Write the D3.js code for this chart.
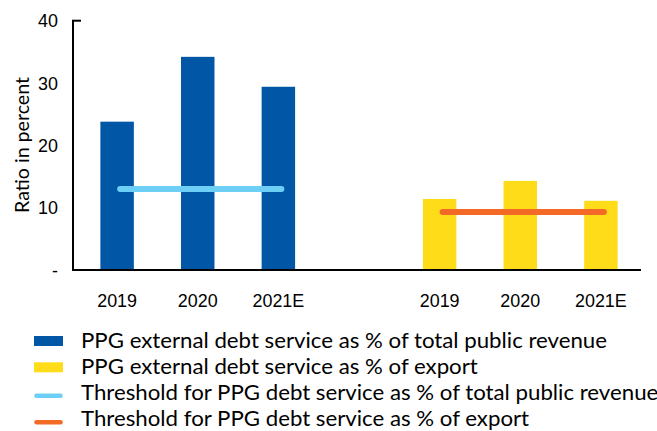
<!DOCTYPE html>
<html>
<head>
<meta charset="utf-8">
<script src="https://cdn.jsdelivr.net/npm/d3@7"></script>
<style>
  html, body { margin: 0; padding: 0; background: #fff; }
  svg { display: block; font-family: Lato, "Open Sans", sans-serif; }
</style>
</head>
<body>
<svg id="chart" width="657" height="431"></svg>
<script>
// ---- data ----
const categories = ["2019", "2020", "2021E"];
const revenueShare = [23.8, 34.2, 29.4];      // PPG external debt service as % of total public revenue
const exportShare = [11.4, 14.3, 11.1];       // PPG external debt service as % of export
const revenueThreshold = [13.0, 13.0, 13.0];
const exportThreshold = [9.3, 9.3, 9.3];
const yTicks = [0, 10, 20, 30, 40];
const yTickLabels = ["-", "10", "20", "30", "40"];
const legendLabels = [
  "PPG external debt service as % of total public revenue",
  "PPG external debt service as % of export",
  "Threshold for PPG debt service as % of total public revenue",
  "Threshold for PPG debt service as % of export"
];
const yTitle = "Ratio in percent";

// ---- styles ----
const C_BLUE = "#0156a6", C_YELLOW = "#fedc19", C_LIGHT = "#6dcff6", C_ORANGE = "#f26a26";

const svg = d3.select("#chart");

// slots: revenue group, gap, export group
const keys = [...categories.map(c => "rev|" + c), "gap", ...categories.map(c => "exp|" + c)];
const x = d3.scaleBand().domain(keys).range([77, 641]).paddingInner(0.585).paddingOuter(0.29);
const y = d3.scaleLinear().domain([0, 40]).range([270, 20.7]);

function measure(str, size) {
  const t = svg.append("text").attr("font-size", size).text(str);
  const w = t.node().getComputedTextLength();
  t.remove();
  return w;
}
const tickFS = 19;
const tickScale = 41.5 / measure("2019", tickFS);
const titleFS = 19;
const legendFS = 21;
const legendScale = 526 / measure(legendLabels[0], legendFS);

// bars
const revData = categories.map((c, i) => ({ key: "rev|" + c, v: revenueShare[i] }));
const expData = categories.map((c, i) => ({ key: "exp|" + c, v: exportShare[i] }));

svg.append("g").selectAll("rect").data(revData).join("rect")
  .attr("x", d => x(d.key)).attr("width", x.bandwidth())
  .attr("y", d => y(d.v)).attr("height", d => y(0) - y(d.v))
  .attr("fill", C_BLUE);
svg.append("g").selectAll("rect").data(expData).join("rect")
  .attr("x", d => x(d.key)).attr("width", x.bandwidth())
  .attr("y", d => y(d.v)).attr("height", d => y(0) - y(d.v))
  .attr("fill", C_YELLOW);

// threshold lines
const line = d3.line().x(d => x(d.key) + x.bandwidth() / 2 + 3).y(d => y(d.v));
svg.append("path")
  .datum(categories.map((c, i) => ({ key: "rev|" + c, v: revenueThreshold[i] })))
  .attr("d", line).attr("fill", "none").attr("stroke", C_LIGHT)
  .attr("stroke-width", 6).attr("stroke-linecap", "round");
svg.append("path")
  .datum(categories.map((c, i) => ({ key: "exp|" + c, v: exportThreshold[i] })))
  .attr("d", line).attr("fill", "none").attr("stroke", C_ORANGE)
  .attr("stroke-width", 6).attr("stroke-linecap", "round");

function squeeze(sel) {
  sel.each(function () {
    const w = this.getComputedTextLength();
    if (w > 0) d3.select(this).attr("textLength", w * tickScale).attr("lengthAdjust", "spacingAndGlyphs");
  });
}

// y axis
const yAxis = d3.axisLeft(y).tickValues(yTicks)
  .tickFormat((d, i) => yTickLabels[i]).tickSize(0).tickPadding(15);
const gy = svg.append("g").attr("transform", "translate(73,0)").call(yAxis);
gy.select(".domain").remove();
gy.selectAll("text").attr("font-size", tickFS).attr("fill", "#000").attr("font-family", null).call(squeeze);
svg.append("line").attr("x1", 73).attr("x2", 73).attr("y1", y(40)).attr("y2", y(0))
  .attr("stroke", "#000").attr("stroke-width", 2);
svg.append("line").attr("x1", 72).attr("x2", 81).attr("y1", y(40)).attr("y2", y(40))
  .attr("stroke", "#000").attr("stroke-width", 2);

// x axis
const xAxis = d3.axisBottom(x).tickSize(0).tickPadding(24)
  .tickFormat(k => k === "gap" ? "" : k.split("|")[1]);
const gx = svg.append("g").attr("transform", `translate(0,${y(0)})`).call(xAxis);
gx.select(".domain").remove();
gx.selectAll("text").attr("font-size", tickFS).attr("fill", "#000").attr("font-family", null).call(squeeze);
svg.append("line").attr("x1", 72).attr("x2", 641).attr("y1", y(0)).attr("y2", y(0))
  .attr("stroke", "#000").attr("stroke-width", 2);

// y title
svg.append("text")
  .attr("transform", `translate(21,${(77 + 213) / 2}) rotate(-90)`)
  .attr("text-anchor", "middle").attr("dominant-baseline", "central")
  .attr("font-size", titleFS).attr("fill", "#000")
  .attr("textLength", 136).attr("lengthAdjust", "spacingAndGlyphs")
  .text(yTitle);

// legend
const legendColors = [C_BLUE, C_YELLOW, C_LIGHT, C_ORANGE];
const swatchY = [341, 367.3, 395.7, 422.3];
const baseY = [348.3, 374.3, 400.2, 425.6];
const lg = svg.append("g");
legendLabels.forEach((lab, i) => {
  if (i < 2) {
    lg.append("rect").attr("x", 34).attr("y", swatchY[i] - 5).attr("width", 29).attr("height", 10)
      .attr("fill", legendColors[i]);
  } else {
    lg.append("line").attr("x1", 36.5).attr("x2", 60.5).attr("y1", swatchY[i]).attr("y2", swatchY[i])
      .attr("stroke", legendColors[i]).attr("stroke-width", 4.5).attr("stroke-linecap", "round");
  }
  const w = measure(lab, legendFS) * legendScale;
  lg.append("text").attr("x", 81).attr("y", baseY[i])
    .attr("font-size", legendFS).attr("fill", "#000")
    .attr("textLength", w).attr("lengthAdjust", "spacingAndGlyphs")
    .text(lab);
});
</script>
</body>
</html>
